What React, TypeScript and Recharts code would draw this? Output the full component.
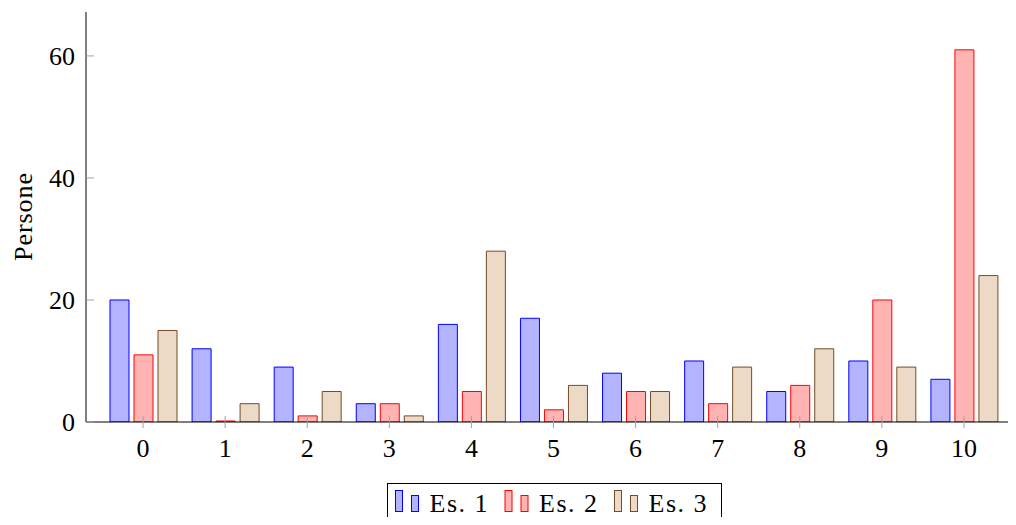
import { BarChart, Bar, XAxis, YAxis, Legend, Label } from 'recharts';

const categories = ['0', '1', '2', '3', '4', '5', '6', '7', '8', '9', '10'];
const es1 = [20, 12, 9, 3, 16, 17, 8, 10, 5, 10, 7];
const es2 = [11, 0, 1, 3, 5, 2, 5, 3, 6, 20, 61];
const es3 = [15, 3, 5, 1, 28, 6, 5, 9, 12, 9, 24];
const yTicks = [0, 20, 40, 60];

const series = [
  { key: 'es1', name: 'Es. 1', fill: '#b3b3ff', stroke: '#0000ff' },
  { key: 'es2', name: 'Es. 2', fill: '#ffb3b3', stroke: '#ff0000' },
  { key: 'es3', name: 'Es. 3', fill: '#ecd9c6', stroke: '#734d26' },
];

const data = categories.map((name, i) => ({ name, es1: es1[i], es2: es2[i], es3: es3[i] }));

const FONT = "'Liberation Serif', 'DejaVu Serif', serif";
const TICK_GRAY = '#a0a0a0';
const txt = { fontFamily: FONT, fontSize: 26 };

// tick x/y come in already offset by tickSize + tickMargin (6 + 5 for y, 6 + 2 for x)
function LeftTick({ x, y, payload }: any) {
  const axisX = x + 11;
  return (
    <g>
      <line x1={axisX} x2={axisX + 8} y1={y} y2={y} stroke={TICK_GRAY} />
      <text x={x} y={y + 9} textAnchor="end" style={txt} fill="#000">
        {payload.value}
      </text>
    </g>
  );
}

function RightTick({ x, y }: any) {
  const axisX = x - 8;
  return <line x1={axisX - 8} x2={axisX} y1={y} y2={y} stroke={TICK_GRAY} />;
}

// this axis sits 1px under the baseline axis
function BottomTick({ x, y, payload }: any) {
  const axisY = y - 9;
  return (
    <g>
      <line x1={x} x2={x} y1={axisY - 6} y2={axisY + 6} stroke={TICK_GRAY} />
      <text x={x} y={axisY + 35} textAnchor="middle" style={txt} fill="#000">
        {payload.value}
      </text>
    </g>
  );
}

function YLabel(props: any) {
  const vb = props.viewBox || { y: 12, height: 410 };
  const cx = 32;
  const cy = vb.y + vb.height / 2;
  return (
    <text
      x={cx}
      y={cy}
      transform={`rotate(-90 ${cx} ${cy})`}
      textAnchor="middle"
      style={txt}
      fill="#000"
      textLength={88}
    >
      Persone
    </text>
  );
}

function LegendBox() {
  return (
    <svg width={335} height={44} style={{ display: 'block' }}>
      <rect x={0.5} y={0.5} width={334} height={50} fill="#fff" stroke="#000" />
      {series.map((s, i) => {
        const bx = 8.5 + i * 109.5;
        return (
          <g key={s.key}>
            <rect x={bx} y={7.5} width={7} height={21} fill={s.fill} stroke={s.stroke} />
            <rect x={bx + 16} y={12.5} width={7} height={16} fill={s.fill} stroke={s.stroke} />
            <text x={bx + 34} y={29} style={txt} fill="#000" textLength={58}>
              {s.name}
            </text>
          </g>
        );
      })}
    </svg>
  );
}

export default function App() {
  return (
    <div style={{ margin: -8, width: 1016, height: 525, overflow: 'hidden', background: '#fff', fontFamily: FONT }}>
      <BarChart
        width={1022}
        height={525}
        data={data}
        margin={{ top: 12, right: 0, left: 0, bottom: 63 }}
        barGap={5}
      >
        {/* unpadded axis: only draws the full-width baseline */}
        <XAxis
          xAxisId="base"
          dataKey="name"
          height={1}
          axisLine={{ stroke: '#000' }}
          tickLine={false}
          tick={false}
        />
        <XAxis
          xAxisId="ticks"
          dataKey="name"
          height={39}
          padding={{ left: 16, right: 16 }}
          axisLine={false}
          tickLine={false}
          tickSize={6}
          tickMargin={2}
          tick={<BottomTick />}
          interval={0}
        />
        <YAxis
          yAxisId="left"
          width={86}
          domain={[0, 67.2]}
          ticks={yTicks}
          allowDataOverflow
          axisLine={{ stroke: '#000' }}
          tickLine={false}
          tickSize={6}
          tickMargin={5}
          tick={<LeftTick />}
        >
          <Label content={<YLabel />} />
        </YAxis>
        <YAxis
          yAxisId="right"
          orientation="right"
          width={1}
          domain={[0, 67.2]}
          ticks={yTicks}
          allowDataOverflow
          axisLine={false}
          tickLine={false}
          tickSize={6}
          tickMargin={2}
          tick={<RightTick />}
        />
        {series.map((s) => (
          <Bar
            key={s.key}
            xAxisId="ticks"
            yAxisId="left"
            dataKey={s.key}
            name={s.name}
            fill={s.fill}
            stroke={s.stroke}
            strokeWidth={1}
            barSize={19}
            minPointSize={s.key === 'es2' ? 1 : 0}
            isAnimationActive={false}
          />
        ))}
        <Legend
          layout="horizontal"
          verticalAlign="middle"
          align="center"
          content={<LegendBox />}
          wrapperStyle={{ left: 387, top: 483, width: 335, height: 44 }}
        />
      </BarChart>
    </div>
  );
}
